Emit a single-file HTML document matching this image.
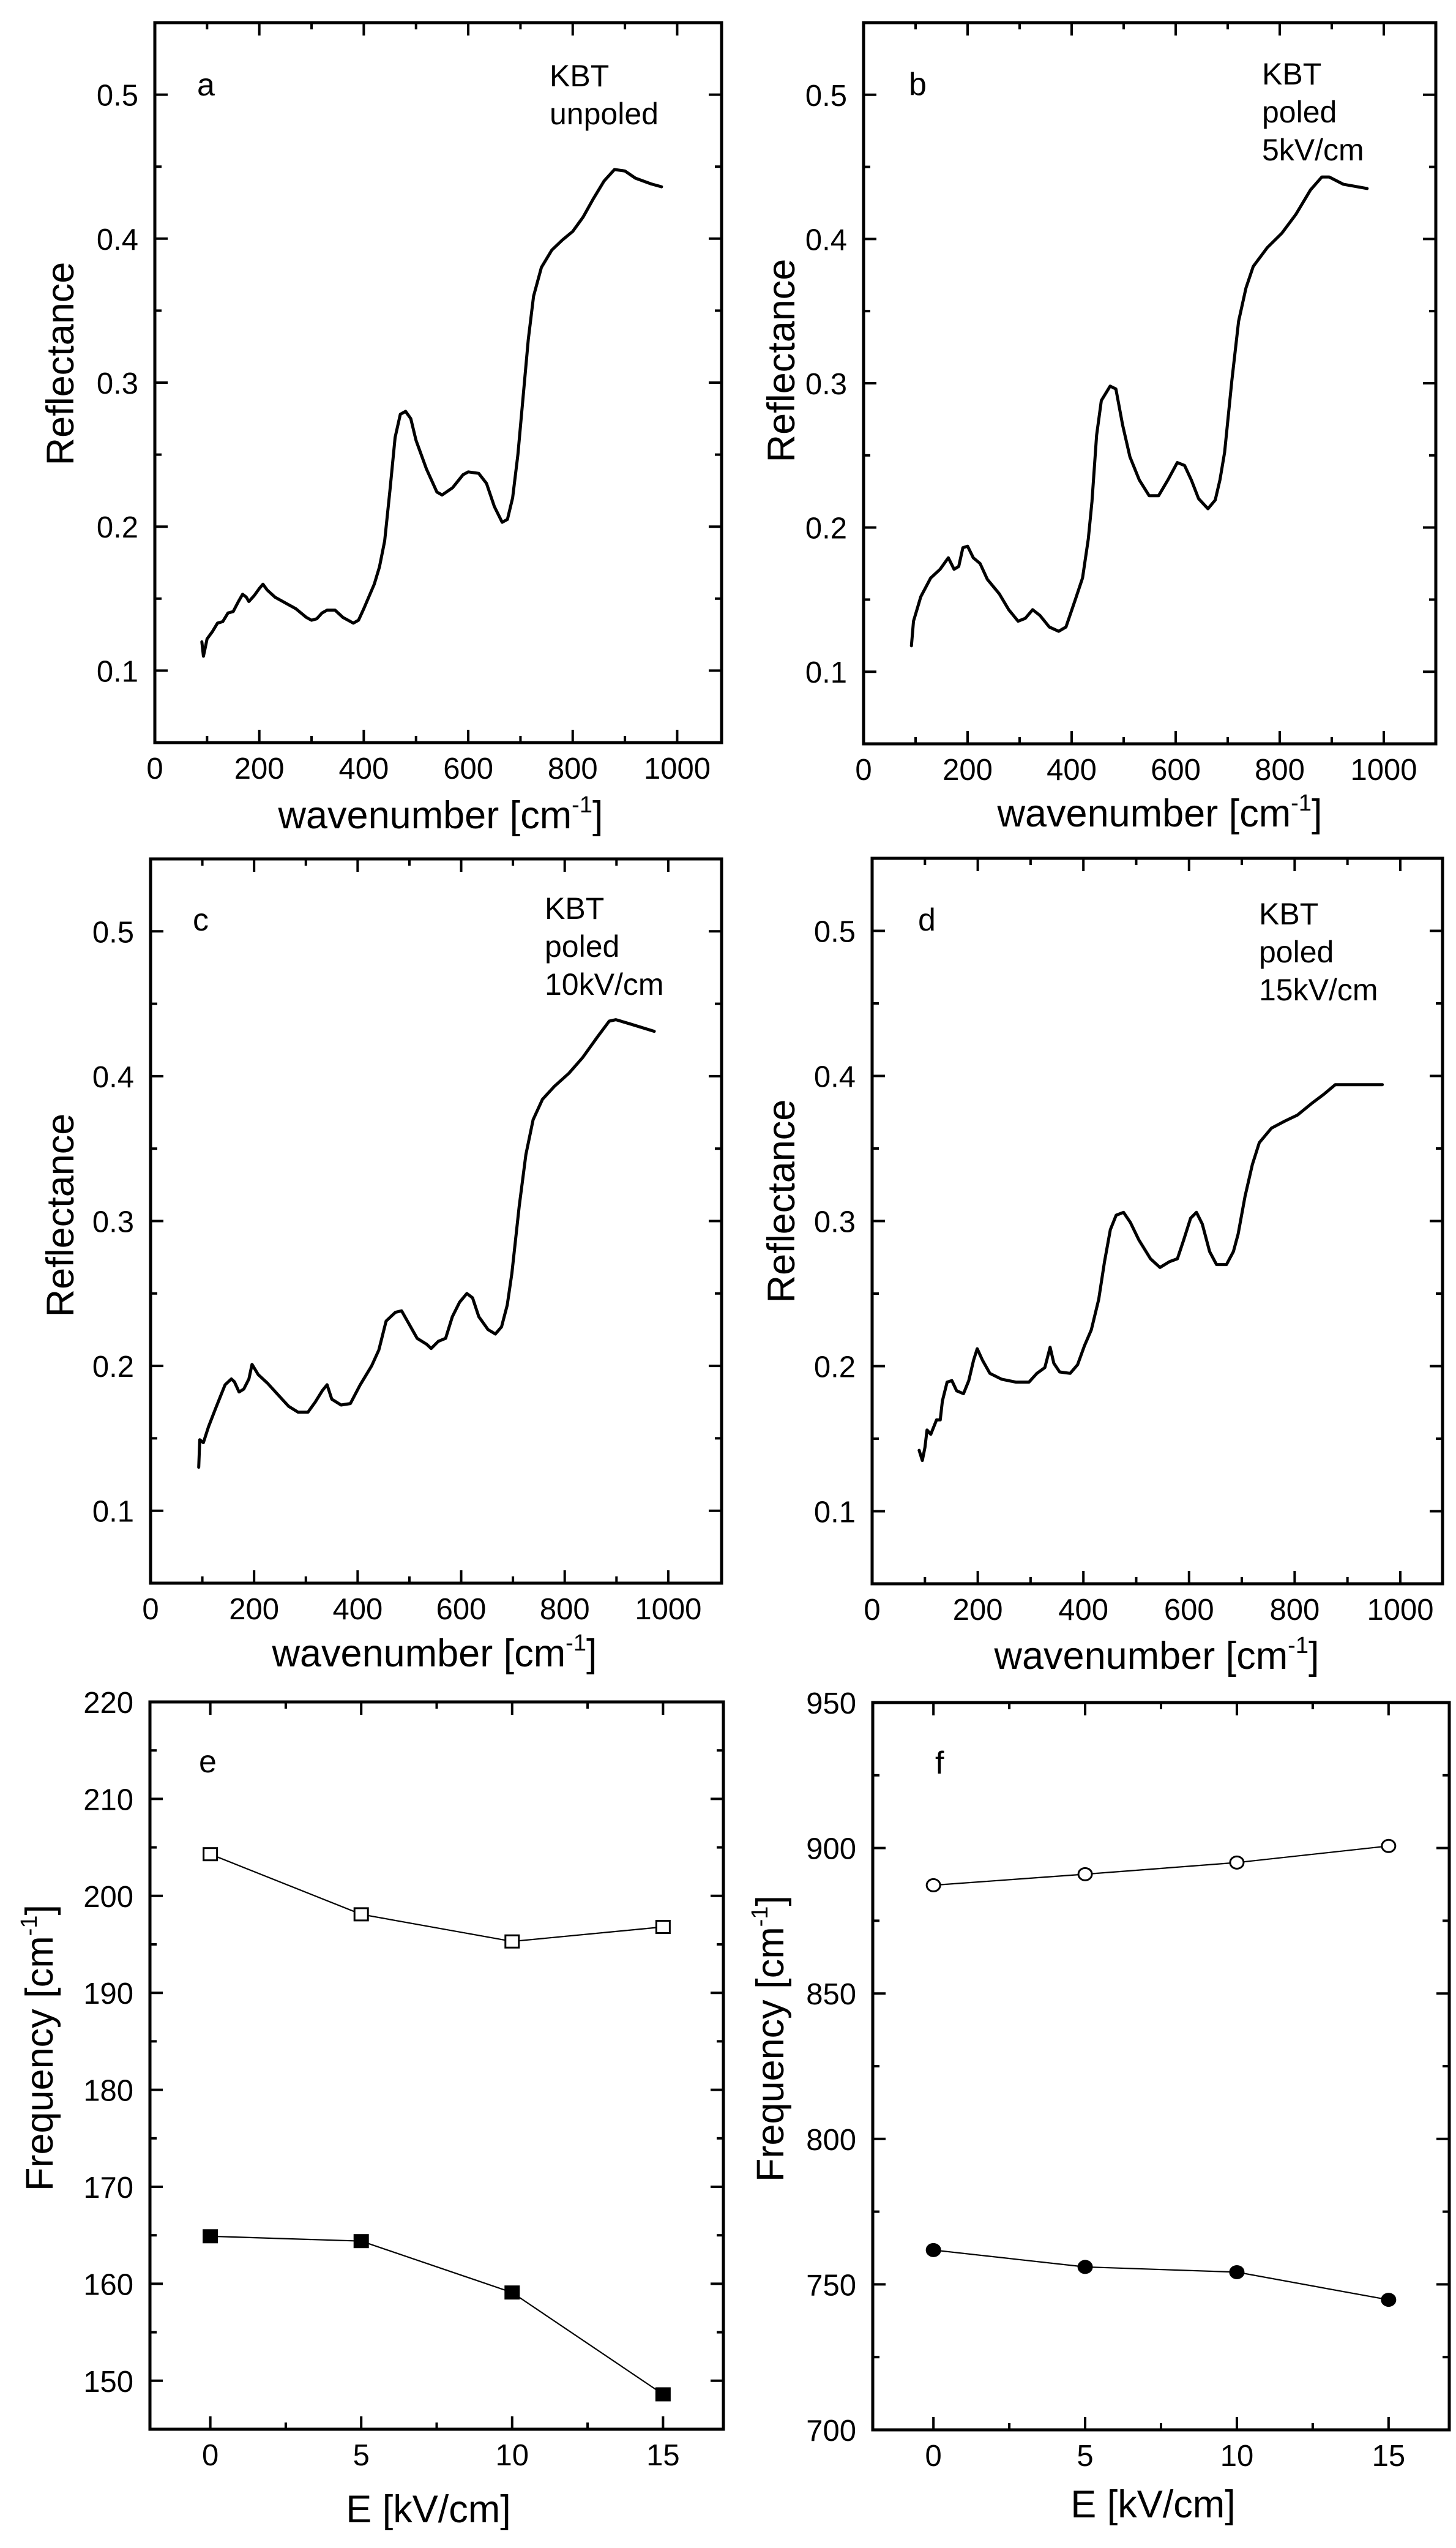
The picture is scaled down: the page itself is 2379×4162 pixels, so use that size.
<!DOCTYPE html>
<html><head><meta charset="utf-8">
<style>
html,body{margin:0;padding:0;background:#fff;}
svg{display:block;}
text{font-family:"Liberation Sans",Arial,sans-serif;fill:#000;}
</style></head>
<body>
<svg id="fig" width="2379" height="4162" viewBox="0 0 2379 4162" xmlns="http://www.w3.org/2000/svg">
<rect x="0" y="0" width="2379" height="4162" fill="#fff"/>
</svg>
<script>
// ---------- data ----------
const wnA = [90,93,96,100,110,120,130,140,150,160,168,175,180,190,200,207,215,230,250,270,290,300,310,320,330,345,360,380,390,400,420,430,440,450,460,470,480,490,500,520,540,550,570,590,600,620,635,650,665,675,685,695,705,715,725,740,760,780,800,820,840,860,880,900,920,950,970];
const rA = [0.12,0.11,0.115,0.122,0.127,0.133,0.134,0.14,0.141,0.148,0.153,0.151,0.148,0.152,0.157,0.16,0.156,0.151,0.147,0.143,0.137,0.135,0.136,0.14,0.142,0.142,0.137,0.133,0.135,0.143,0.16,0.172,0.19,0.225,0.262,0.278,0.28,0.275,0.26,0.24,0.224,0.222,0.227,0.236,0.238,0.237,0.23,0.214,0.203,0.205,0.22,0.25,0.29,0.33,0.36,0.38,0.392,0.399,0.405,0.415,0.428,0.44,0.448,0.447,0.442,0.438,0.436];
const wnB = [92,96,110,129,147,163,174,183,191,200,211,224,238,261,279,297,311,325,339,357,375,389,407,421,432,439,448,457,474,485,498,512,530,549,567,585,603,617,630,644,662,676,685,694,708,721,735,749,776,804,831,859,881,895,922,968];
const rB = [0.118,0.135,0.152,0.165,0.171,0.179,0.171,0.173,0.186,0.187,0.179,0.175,0.164,0.154,0.143,0.135,0.137,0.143,0.139,0.131,0.128,0.131,0.15,0.165,0.192,0.218,0.264,0.288,0.298,0.296,0.271,0.249,0.233,0.222,0.222,0.233,0.245,0.243,0.233,0.22,0.213,0.219,0.233,0.252,0.302,0.343,0.366,0.381,0.394,0.404,0.417,0.434,0.443,0.443,0.438,0.435];
const wnC = [93,95,102,112,125,135,144,156,162,171,180,190,196,208,226,249,267,285,304,318,332,341,350,368,386,405,427,441,455,473,485,496,515,533,542,556,570,583,597,611,622,634,652,666,678,689,698,712,725,739,757,780,808,835,863,886,899,927,973];
const rC = [0.130,0.149,0.147,0.158,0.170,0.179,0.187,0.191,0.189,0.182,0.184,0.191,0.201,0.194,0.188,0.179,0.172,0.168,0.168,0.175,0.183,0.187,0.177,0.173,0.174,0.187,0.2,0.211,0.231,0.237,0.238,0.231,0.219,0.215,0.212,0.217,0.219,0.234,0.244,0.25,0.247,0.234,0.225,0.222,0.227,0.242,0.264,0.31,0.346,0.37,0.384,0.393,0.402,0.413,0.427,0.438,0.439,0.436,0.431];
const wnD = [89,95,100,104,111,122,129,133,142,151,160,173,183,192,199,209,223,245,272,297,312,327,337,344,355,375,389,402,415,429,440,451,462,476,489,505,527,545,563,578,590,603,614,625,639,652,671,684,693,706,720,733,756,782,805,832,854,877,917,966];
const rD = [0.142,0.135,0.144,0.156,0.153,0.163,0.163,0.176,0.189,0.19,0.183,0.181,0.19,0.204,0.212,0.204,0.195,0.191,0.189,0.189,0.195,0.199,0.213,0.202,0.196,0.195,0.201,0.214,0.225,0.246,0.272,0.294,0.304,0.306,0.299,0.287,0.274,0.268,0.272,0.274,0.287,0.302,0.306,0.298,0.279,0.27,0.27,0.279,0.291,0.317,0.339,0.354,0.364,0.369,0.373,0.381,0.387,0.394,0.394,0.394];
const fieldE = [0,5,10,15];
const freqEUpper = [204.3,198.1,195.3,196.8];
const freqELower = [164.9,164.4,159.1,148.6];
const freqFUpper = [887.2,891.0,895.0,900.7];
const freqFLower = [761.8,756.0,754.2,744.7];
const reflTicks = [0.1,0.2,0.3,0.4,0.5];
const reflTickLabels = ["0.1","0.2","0.3","0.4","0.5"];
const wnTicks = [0,200,400,600,800,1000];
const wnTickLabels = ["0","200","400","600","800","1000"];
const eTicks = [0,5,10,15];
const eTickLabels = ["0","5","10","15"];
const freqETicks = [150,160,170,180,190,200,210,220];
const freqETickLabels = ["150","160","170","180","190","200","210","220"];
const freqFTicks = [700,750,800,850,900,950];
const freqFTickLabels = ["700","750","800","850","900","950"];

// ---------- drawing ----------
const NS = "http://www.w3.org/2000/svg";
const svg = document.getElementById("fig");
function mk(tag, attrs, parent){
  const e = document.createElementNS(NS, tag);
  for (const k in attrs) e.setAttribute(k, attrs[k]);
  (parent||svg).appendChild(e);
  return e;
}
function scale(d0,d1,p0,p1){ return v => p0 + (v-d0)/(d1-d0)*(p1-p0); }

function panel(c){
  const g = mk("g", {});
  
  
  const X = scale(c.xd[0], c.xd[1], c.l, c.r);
  const Y = scale(c.yd[0], c.yd[1], c.b, c.t);
  c.X = X; c.Y = Y;
  // ticks
  const tg = mk("g", {stroke:"#000","stroke-width":4}, g);
  
  
  for (let v = c.xMinor[0]; v <= c.xd[1]+1e-9; v += c.xMinor[1]) {
    const px = X(v); if (px < c.l+3 || px > c.r-3) continue;
    const major = c.xTicks.some(t => Math.abs(t-v) < 1e-6);
    const L = major ? 21 : 11;
    mk("line", {x1:px, y1:c.b, x2:px, y2:c.b-L}, tg);
    mk("line", {x1:px, y1:c.t, x2:px, y2:c.t+L}, tg);
  }
  for (let v = c.yMinor[0]; v <= c.yd[1]+1e-9; v += c.yMinor[1]) {
    const py = Y(v); if (py < c.t+3 || py > c.b-3) continue;
    const major = c.yTicks.some(t => Math.abs(t-v) < 1e-6);
    const L = major ? 21 : 11;
    mk("line", {x1:c.l, y1:py, x2:c.l+L, y2:py}, tg);
    mk("line", {x1:c.r, y1:py, x2:c.r-L, y2:py}, tg);
  }
  // frame
  const fr = mk("rect", {x:c.l, y:c.t, width:c.r-c.l, height:c.b-c.t, fill:"none", stroke:"#000","stroke-width":5}, g);
  
  
  // tick labels
  c.xTicks.forEach((v,i) => {
    const t = mk("text", {x:X(v), y:c.b+59, "text-anchor":"middle","font-size":49}, g);
    
    
    t.textContent = c.xLabels[i];
  });
  c.yTicks.forEach((v,i) => {
    const t = mk("text", {x:c.l-27, y:Y(v)+18, "text-anchor":"end","font-size":49}, g);
    
    
    t.textContent = c.yLabels[i];
  });
  // axis titles
  const xt = mk("text", {x:c.xtx, y:c.xty, "text-anchor":"middle","font-size":63}, g);
  
  
  xt.textContent = c.xTitle;
  if (c.xSup) {
    const s = mk("tspan", {"font-size":38, dy:-26}, xt); s.textContent = "-1";
    const s2 = mk("tspan", {dy:26}, xt); s2.textContent = "]";
  }
  const yt = mk("text", {x:0, y:0, "text-anchor":"middle","font-size":63, transform:`translate(${c.ytx},${c.yty}) rotate(-90)`}, g);
  
  
  yt.textContent = c.yTitle;
  if (c.ySup) {
    const s = mk("tspan", {"font-size":38, dy:-26}, yt); s.textContent = "-1";
    const s2 = mk("tspan", {dy:26}, yt); s2.textContent = "]";
  }
  // panel letter
  const pl = mk("text", {x:c.lx, y:c.ly, "font-size":52}, g);
  
  
  pl.textContent = c.letter;
  if (c.note) {
    c.note.forEach((line,i) => {
      const n = mk("text", {x:c.nx, y:c.ny + i*62, "font-size":50}, g);
      
      
      n.textContent = line;
    });
  }
  return g;
}

function curve(c, xs, ys, name){
  let d = "";
  xs.forEach((x,i) => { d += (i ? "L" : "M") + c.X(x).toFixed(1) + "," + c.Y(ys[i]).toFixed(1); });
  const p = mk("path", {d:d, fill:"none", stroke:"#000","stroke-width":5,"stroke-linejoin":"round","stroke-linecap":"round"});
  
  
}

function series(c, xs, ys, shape, filled, name){
  let d = "";
  xs.forEach((x,i) => { d += (i ? "L" : "M") + c.X(x).toFixed(1) + "," + c.Y(ys[i]).toFixed(1); });
  const p = mk("path", {d:d, fill:"none", stroke:"#000","stroke-width":2.2});
  
  
  xs.forEach((x,i) => {
    const px = c.X(x), py = c.Y(ys[i]);
    let m;
    if (shape === "square") m = mk("rect", {x:px-11, y:py-10, width:22, height:20, fill:filled?"#000":"#fff", stroke:"#000","stroke-width":3});
    else m = mk("ellipse", {cx:px, cy:py, rx:11, ry:10, fill:filled?"#000":"#fff", stroke:"#000","stroke-width":3});
    
    
  });
}

const spec = {xTicks:wnTicks, xLabels:wnTickLabels, xMinor:[0,100], yTicks:reflTicks, yLabels:reflTickLabels, yMinor:[0.05,0.05], yd:[0.05,0.55], xTitle:"wavenumber [cm", xSup:true, yTitle:"Reflectance"};
const A = Object.assign({}, spec, {name:"panel-a", l:253, r:1179, t:37, b:1213, xd:[0,1085], xtx:720, xty:1353, ytx:120, yty:594, letter:"a", lx:322, ly:156, note:["KBT","unpoled"], nx:898, ny:141});
const B = Object.assign({}, spec, {name:"panel-b", l:1411, r:2346, t:37, b:1215, xd:[0,1100], xtx:1895, xty:1350, ytx:1298, yty:589, letter:"b", lx:1485, ly:155, note:["KBT","poled","5kV/cm"], nx:2062, ny:138});
const C = Object.assign({}, spec, {name:"panel-c", l:246, r:1179, t:1403, b:2586, xd:[0,1103], xtx:710, xty:2722, ytx:120, yty:1985, letter:"c", lx:315, ly:1520, note:["KBT","poled","10kV/cm"], nx:890, ny:1501});
const D = Object.assign({}, spec, {name:"panel-d", l:1425, r:2357, t:1402, b:2587, xd:[0,1080], xtx:1890, xty:2726, ytx:1298, yty:1962, letter:"d", lx:1500, ly:1520, note:["KBT","poled","15kV/cm"], nx:2057, ny:1510});
const E = {name:"panel-e", l:245, r:1182, t:2780, b:3968, xd:[-2,17], yd:[145,220], xTicks:eTicks, xLabels:eTickLabels, xMinor:[-2.5,2.5], yTicks:freqETicks, yLabels:freqETickLabels, yMinor:[145,5], xTitle:"E [kV/cm]", yTitle:"Frequency [cm", ySup:true, xtx:700, xty:4120, ytx:86, yty:3345, letter:"e", lx:325, ly:2895};
const F = {name:"panel-f", l:1426, r:2368, t:2781, b:3969, xd:[-2,17], yd:[700,950], xTicks:eTicks, xLabels:eTickLabels, xMinor:[-2.5,2.5], yTicks:freqFTicks, yLabels:freqFTickLabels, yMinor:[700,25], xTitle:"E [kV/cm]", yTitle:"Frequency [cm", ySup:true, xtx:1884, xty:4112, ytx:1280, yty:3330, letter:"f", lx:1528, ly:2897};

[A,B,C,D,E,F].forEach(panel);
curve(A, wnA, rA, "reflectance-curve-unpoled");
curve(B, wnB, rB, "reflectance-curve-5kv");
curve(C, wnC, rC, "reflectance-curve-10kv");
curve(D, wnD, rD, "reflectance-curve-15kv");
series(E, fieldE, freqEUpper, "square", false, "mode-e-upper");
series(E, fieldE, freqELower, "square", true, "mode-e-lower");
series(F, fieldE, freqFUpper, "circle", false, "mode-f-upper");
series(F, fieldE, freqFLower, "circle", true, "mode-f-lower");
</script>
</body></html>
